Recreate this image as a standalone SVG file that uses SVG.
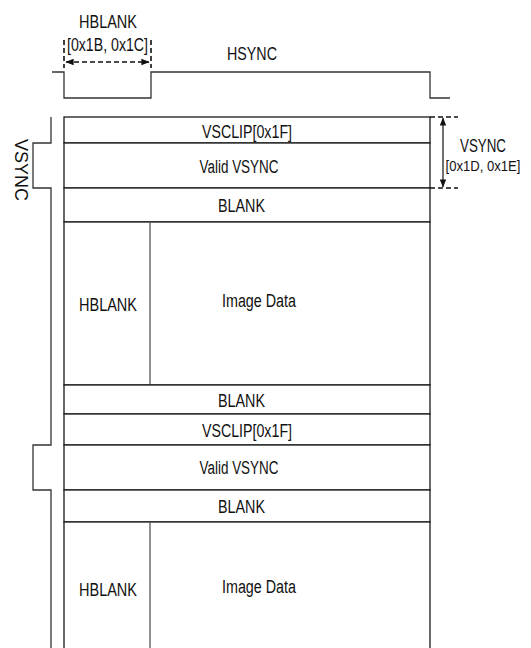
<svg xmlns="http://www.w3.org/2000/svg" width="531" height="648" viewBox="0 0 531 648">
<style>
text{font-family:"Liberation Sans",Arial,sans-serif;font-size:18px;fill:#111;text-anchor:middle}
.box{fill:#fff;stroke:#1a1a1a;stroke-width:1.3}
.div{stroke:#555;stroke-width:1.3}
.sig{fill:none;stroke:#333;stroke-width:1.3}
.dash{fill:none;stroke:#111;stroke-width:1.6;stroke-dasharray:5 3}
.dim{fill:none;stroke:#111;stroke-width:1.2}
</style>
<defs>
<marker id="ah" viewBox="0 0 10 10" refX="9.5" refY="5" markerWidth="8" markerHeight="8" markerUnits="userSpaceOnUse" orient="auto-start-reverse"><path d="M0,1 L10,5 L0,9z" fill="#111"/></marker>
</defs>
<g id="hblank-label">
<text x="108" y="28" textLength="58" lengthAdjust="spacingAndGlyphs">HBLANK</text>
<text x="107.5" y="51" textLength="81" lengthAdjust="spacingAndGlyphs">[0x1B, 0x1C]</text>
</g>
<g id="hsync-label"><text x="252" y="60" textLength="50" lengthAdjust="spacingAndGlyphs">HSYNC</text></g>
<g id="vsync-right-label">
<text x="483" y="152" textLength="46" lengthAdjust="spacingAndGlyphs">VSYNC</text>
<text x="483" y="171" style="font-size:15px" textLength="75" lengthAdjust="spacingAndGlyphs">[0x1D, 0x1E]</text>
</g>
<g id="vsync-left-label"><text transform="translate(15,170) rotate(90)" x="0" y="0">VSYNC</text></g>
<g id="row-vsclip1"><rect class="box" x="64" y="117" width="366" height="26"/><text x="247" y="137.5" textLength="90" lengthAdjust="spacingAndGlyphs">VSCLIP[0x1F]</text></g>
<g id="row-valid1"><rect class="box" x="64" y="143" width="366" height="45"/><text x="239" y="172.5" textLength="79" lengthAdjust="spacingAndGlyphs">Valid VSYNC</text></g>
<g id="row-blank1"><rect class="box" x="64" y="188" width="366" height="34"/><text x="241.5" y="211.5" textLength="47" lengthAdjust="spacingAndGlyphs">BLANK</text></g>
<g id="row-image1"><rect class="box" x="64" y="222" width="366" height="163"/><line class="div" x1="150" y1="222" x2="150" y2="385"/><text x="108" y="310.5" textLength="58" lengthAdjust="spacingAndGlyphs">HBLANK</text><text x="259" y="306.5" textLength="74" lengthAdjust="spacingAndGlyphs">Image Data</text></g>
<g id="row-blank2"><rect class="box" x="64" y="385" width="366" height="29"/><text x="241.5" y="406.5" textLength="47" lengthAdjust="spacingAndGlyphs">BLANK</text></g>
<g id="row-vsclip2"><rect class="box" x="64" y="414" width="366" height="31"/><text x="247" y="436.5" textLength="90" lengthAdjust="spacingAndGlyphs">VSCLIP[0x1F]</text></g>
<g id="row-valid2"><rect class="box" x="64" y="445" width="366" height="45"/><text x="239" y="473.5" textLength="79" lengthAdjust="spacingAndGlyphs">Valid VSYNC</text></g>
<g id="row-blank3"><rect class="box" x="64" y="490" width="366" height="32"/><text x="241.5" y="512.5" textLength="47" lengthAdjust="spacingAndGlyphs">BLANK</text></g>
<g id="row-image2"><rect class="box" x="64" y="522" width="366" height="140"/><line class="div" x1="150" y1="522" x2="150" y2="648"/><text x="108" y="595.5" textLength="58" lengthAdjust="spacingAndGlyphs">HBLANK</text><text x="259" y="592.5" textLength="74" lengthAdjust="spacingAndGlyphs">Image Data</text></g>
<g id="connectors">
<polyline class="sig" points="52,72 64,72 64,98 151,98 151,72 430,72 430,98 450,98"/>
<polyline class="sig" points="51,117 51,143 33,143 33,188 51,188 51,445 33,445 33,490 51,490 51,648"/>
<line class="dash" x1="64" y1="40" x2="64" y2="68"/>
<line class="dash" x1="151" y1="40" x2="151" y2="68"/>
<line class="dash" x1="66" y1="62" x2="149" y2="62" marker-start="url(#ah)" marker-end="url(#ah)"/>
<line class="dash" x1="430" y1="117" x2="458" y2="117"/>
<line class="dash" x1="430" y1="188" x2="458" y2="188"/>
<line class="dim" x1="443" y1="118" x2="443" y2="187" marker-start="url(#ah)" marker-end="url(#ah)"/>
</g>
</svg>
